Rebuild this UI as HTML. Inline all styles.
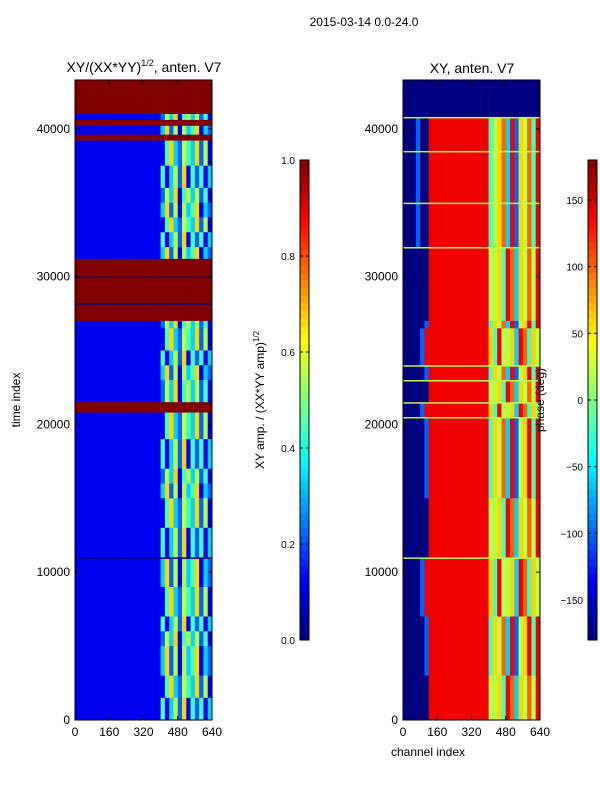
<!DOCTYPE html>
<html><head><meta charset="utf-8"><style>
body{margin:0;background:#fff}
svg text{font-family:"Liberation Sans",sans-serif}
</style></head><body>
<svg id="fig" width="600" height="800" xmlns="http://www.w3.org/2000/svg">
<rect width="600" height="800" fill="#fff"/>
<text x="364" y="26" font-size="12" text-anchor="middle">2015-03-14 0.0-24.0</text>
<g id="left"></g>
<g id="right"></g>
<g id="cb1"></g>
<g id="cb2"></g>
<text x="144" y="72" font-size="14" text-anchor="middle">XY/(XX*YY)<tspan font-size="9" dy="-6">1/2</tspan><tspan dy="6">, anten. V7</tspan></text>
<text x="472" y="73" font-size="14" text-anchor="middle">XY, anten. V7</text>
<text transform="translate(20,400) rotate(-90)" font-size="12" text-anchor="middle">time index</text>
<text x="428" y="756" font-size="12" text-anchor="middle">channel index</text>
<text transform="translate(264,400) rotate(-90)" font-size="12" text-anchor="middle">XY amp. / (XX*YY amp)<tspan font-size="8" dy="-5">1/2</tspan></text>
<text transform="translate(544,400) rotate(-90)" font-size="12" text-anchor="middle">phase (deg)</text>
</svg>
<script>
const xTicks=[0,160,320,480,640];
const yTicks=[0,10000,20000,30000,40000];
const ampTicks=[0.0,0.2,0.4,0.6,0.8,1.0];
const phaseTicks=[-150,-100,-50,0,50,100,150];
const leftPatterns=[
"11111111111111111111253614535241",
"11111111111111111111362515346132",
"11111111111111111111146325436251",
"99999999999999999999999999999999",
"00000000000000000000000000000000",
"11111111111111111111413526142413"];
const leftRows=[[41,43.3,3],[40.6,41,0],[40.2,40.6,3],[39.6,40.2,1],[39.2,39.6,3],[37.5,39.2,2],[36,37.5,5],[35,36,0],[34,35,1],[33,34,2],[32,33,5],[31.2,32,1],[30,31.2,3],[29.9,30,4],[28.2,29.9,3],[28.1,28.2,4],[27,28.1,3],[26.5,27,0],[25,26.5,2],[24,25,5],[23,24,1],[21.5,23,0],[20.8,21.5,3],[19,20.8,2],[17,19,5],[16,17,0],[15,16,1],[13,15,2],[11,13,5],[10.9,11,4],[9,10.9,1],[7,9,2],[6,7,5],[5,6,0],[3,5,1],[1.5,3,2],[0,1.5,5]];
const rightPatterns=[
"00000288888888888888465738256848",
"00000088888888888888556487365758",
"00002888888888888888648556387465",
"00000000000000000000000000000000",
"55555555555555555555555555555555",
"00020088888888888888456738265748"];
const rightRows=[[40.8,43.3,3],[40.7,40.8,4],[38.5,40.7,5],[38.4,38.5,4],[35,38.4,5],[34.9,35,4],[32,34.9,5],[31.9,32,4],[27,31.9,1],[26.5,27,0],[24,26.5,2],[23.9,24,4],[23,23.9,0],[22.9,23,4],[21.5,22.9,1],[21.4,21.5,4],[20.5,21.4,2],[20.4,20.5,4],[15,20.4,0],[11,15,1],[10.9,11,4],[7,10.9,2],[3,7,0],[0,3,1]];
const NS="http://www.w3.org/2000/svg";
function jet(v){const c=x=>Math.round(255*Math.max(0,Math.min(1,x)));return `rgb(${c(1.5-Math.abs(4*v-3))},${c(1.5-Math.abs(4*v-2))},${c(1.5-Math.abs(4*v-1))})`;}
function el(t,a,p){const e=document.createElementNS(NS,t);for(const k in a)e.setAttribute(k,a[k]);p.appendChild(e);return e;}
const Y0=720,Y1=80,TMAX=43300;
const yS=t=>Y0-(t/TMAX)*(Y0-Y1);
function panel(gid,x0,x1,patterns,rows){
  const g=document.getElementById(gid);
  const xS=c=>x0+c/640*(x1-x0);
  rows.forEach(r=>{
    const p=patterns[r[2]];
    for(let i=0;i<p.length;i++){
      const cw=640/p.length;
      const rc=el('rect',{x:xS(i*cw),y:yS(r[1]*1000),width:xS((i+1)*cw)-xS(i*cw)+0.3,height:yS(r[0]*1000)-yS(r[1]*1000)+0.3,fill:jet(+p[i]/9)},g);
      
      
    }
  });
  el('rect',{x:x0,y:Y1,width:x1-x0,height:Y0-Y1,fill:'none',stroke:'#000'},g);
  xTicks.forEach(t=>{const x=xS(t);el('line',{x1:x,x2:x,y1:Y0,y2:Y0-4,stroke:'#000'},g);el('line',{x1:x,x2:x,y1:Y1,y2:Y1+4,stroke:'#000'},g);
    const tx=el('text',{x:x,y:Y0+16,'font-size':12,'text-anchor':'middle'},g);tx.textContent=t;
    
    });
  yTicks.forEach(t=>{const y=yS(t);el('line',{x1:x0,x2:x0+4,y1:y,y2:y,stroke:'#000'},g);el('line',{x1:x1,x2:x1-4,y1:y,y2:y,stroke:'#000'},g);
    const tx=el('text',{x:x0-5,y:y+4,'font-size':12,'text-anchor':'end'},g);tx.textContent=t;
    
    });
}
panel('left',75,212,leftPatterns,leftRows);
panel('right',403,540,rightPatterns,rightRows);
function cbar(gid,x,lo,hi,ticks){
  const g=document.getElementById(gid);const top=160,bot=640,n=64;
  for(let i=0;i<n;i++){el('rect',{x:x,y:bot-(i+1)*(bot-top)/n,width:9,height:(bot-top)/n+0.5,fill:jet((i+0.5)/n)},g);}
  el('rect',{x:x,y:top,width:9,height:bot-top,fill:'none',stroke:'#000'},g);
  ticks.forEach(t=>{const y=bot-(t-lo)/(hi-lo)*(bot-top);el('line',{x1:x,x2:x+3,y1:y,y2:y,stroke:'#000'},g);el('line',{x1:x+9,x2:x+6,y1:y,y2:y,stroke:'#000'},g);
    const tx=el('text',{x:x-5,y:y+4,'font-size':10,'text-anchor':'end'},g);tx.textContent=(lo===0?t.toFixed(1):String(t).replace('-','\u2212'));
    
    });
}
cbar('cb1',300,0,1,ampTicks);
cbar('cb2',588,-180,180,phaseTicks);
</script>
</body></html>
